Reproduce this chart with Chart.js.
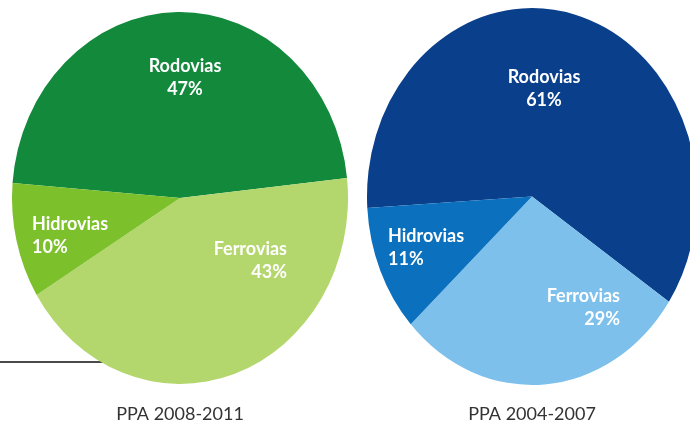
<!DOCTYPE html>
<html>
<head>
<meta charset="utf-8">
<script src="https://cdn.jsdelivr.net/npm/chart.js@4.4.1/dist/chart.umd.min.js"></script>
<style>
  html, body { margin: 0; padding: 0; background: #fff; overflow: hidden; }
  #wrap { position: relative; width: 690px; height: 425px; overflow: hidden; }
  canvas { position: absolute; top: 0; }
  #rule { position: absolute; left: 0; top: 361px; width: 110px; height: 2px; background: #4a4a4a; }
</style>
</head>
<body>
<div id="wrap">
  <div id="rule"></div>
  <canvas id="pie2011" width="360" height="425" style="left:0"></canvas>
  <canvas id="pie2007" width="360" height="425" style="left:345px"></canvas>
</div>
<script>
"use strict";

// data
const categories = ["Rodovias", "Ferrovias", "Hidrovias"];
const values2011 = [47, 43, 10];
const values2007 = [61, 29, 11];
const titles = ["PPA 2008-2011", "PPA 2004-2007"];

const greens = ["#13893c", "#b3d66d", "#7cc02c"];
const blues = ["#0a3f8c", "#7cc0eb", "#0b70bd"];

// label anchors in canvas px: [x, baseline y, align]
const spots2011 = [[185, 72, "center"], [287, 255, "right"], [32, 230, "left"]];
const spots2007 = [[199, 83, "center"], [275, 302, "right"], [43, 242, "left"]];

// the pies in the picture are taller than wide
const squash = {
  id: "squash",
  beforeDatasetsDraw: (chart, args, opts) => {
    const { ctx, chartArea } = chart;
    const cy = (chartArea.top + chartArea.bottom) / 2;
    ctx.save();
    ctx.translate(0, cy);
    ctx.scale(1, opts.factor);
    ctx.translate(0, -cy);
  },
  afterDatasetsDraw: (chart) => {
    chart.ctx.restore();
  },
};

const sliceLabels = {
  id: "sliceLabels",
  afterDraw: (chart, args, opts) => {
    const { ctx } = chart;
    const data = chart.data.datasets[0].data;
    ctx.save();
    ctx.fillStyle = "#ffffff";
    ctx.font = "bold 18px Lato";
    ctx.textBaseline = "alphabetic";
    chart.data.labels.forEach((label, i) => {
      const [x, y, align] = opts.spots[i];
      ctx.textAlign = align;
      ctx.fillText(label, x, y);
      ctx.fillText(`${data[i]}%`, x, y + 23);
    });
    ctx.restore();
  },
};

const makePie = (canvasId, values, colors, title, spots, factor, padding, titleGap, rotation) => {
  const ctx = document.getElementById(canvasId).getContext("2d");
  new Chart(ctx, {
    type: "pie",
    data: {
      labels: categories,
      datasets: [
        {
          data: values,
          backgroundColor: colors,
          borderWidth: 0,
        },
      ],
    },
    options: {
      responsive: false,
      animation: false,
      rotation: rotation,
      layout: { padding: padding },
      plugins: {
        legend: { display: false },
        tooltip: { enabled: false },
        title: {
          display: true,
          position: "bottom",
          text: title,
          color: "#333333",
          font: { size: 18, family: "Lato", weight: "normal", lineHeight: 1.2 },
          padding: { top: titleGap, bottom: 0 },
        },
        squash: { factor: factor },
        sliceLabels: { spots: spots },
      },
    },
    plugins: [squash, sliceLabels],
  });
};

makePie("pie2011", values2011, greens, titles[0], spots2011, 1.107,
  { left: 12, right: 12, top: 30, bottom: 0 }, 37.4, -85.4);
makePie("pie2007", values2007, blues, titles[1], spots2007, 1.142,
  { left: 22, right: 8, top: 31.5, bottom: 0 }, 41.9, -93.5);
</script>
</body>
</html>
